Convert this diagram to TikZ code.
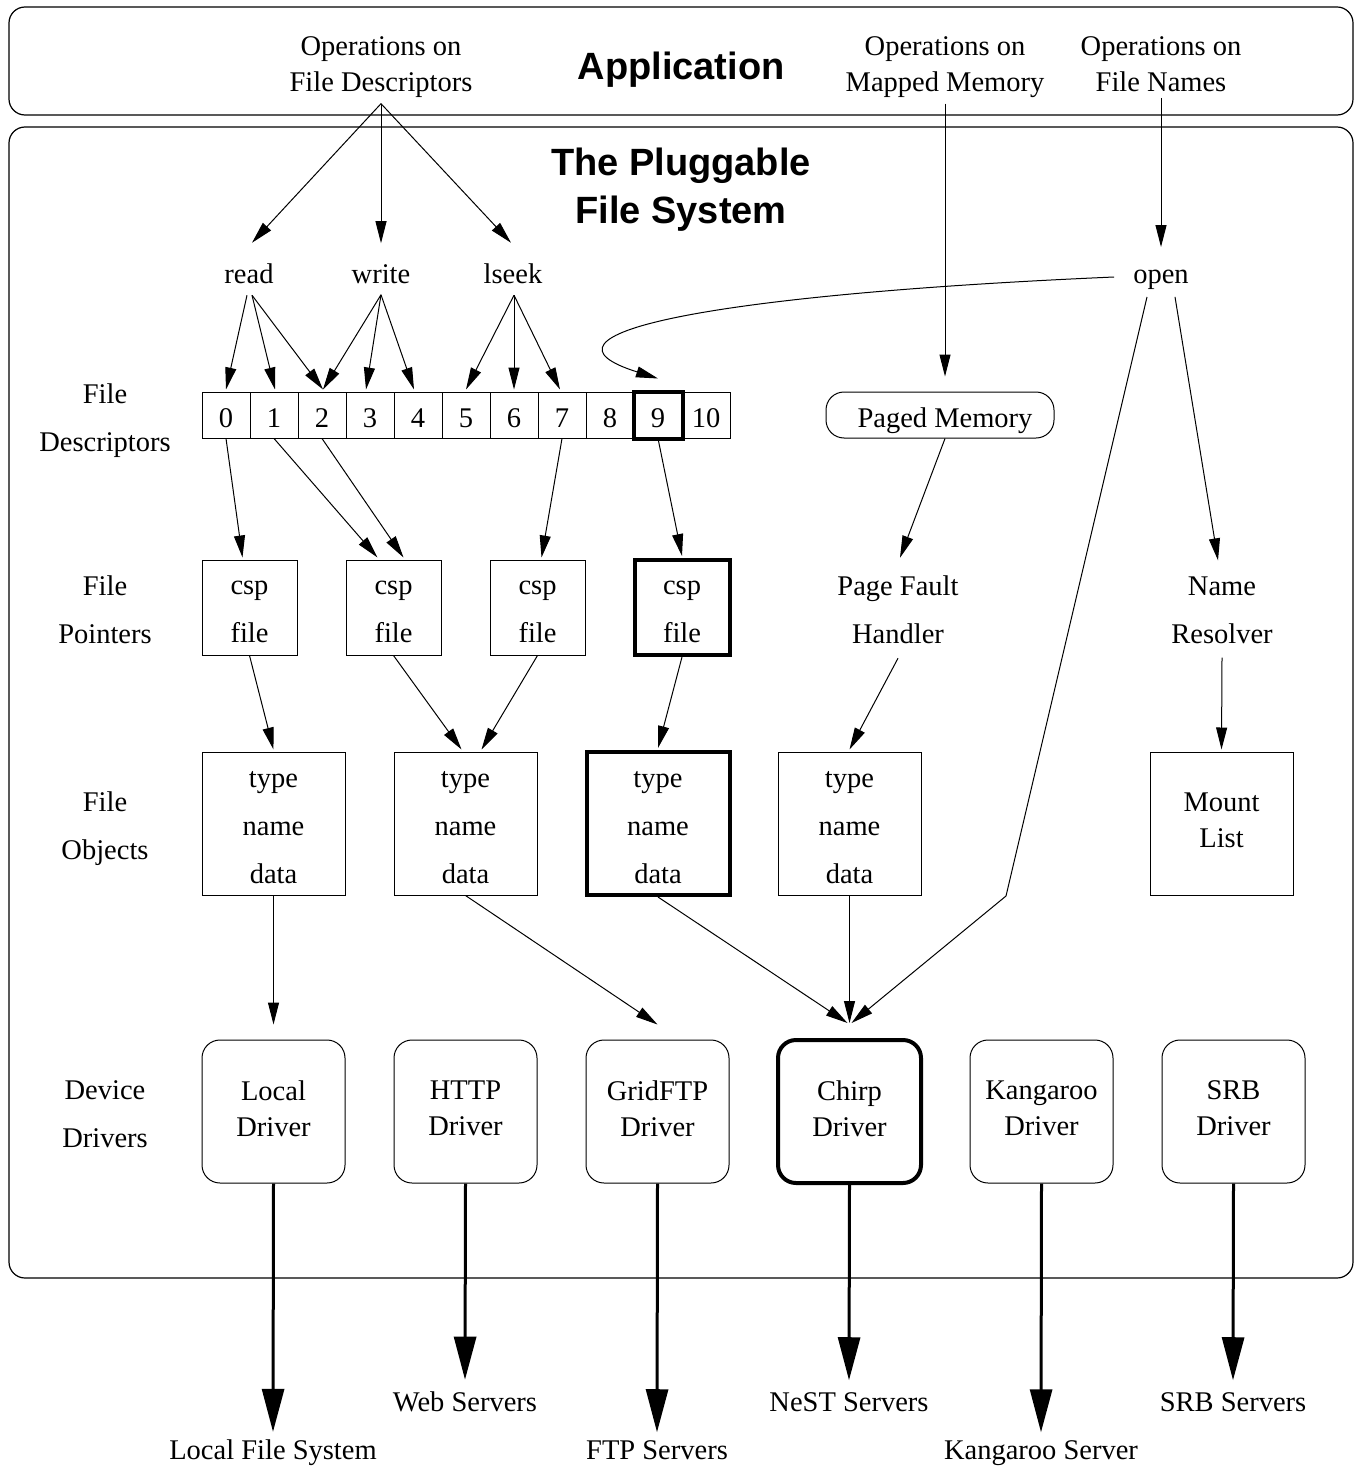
\documentclass[tikz,border=0pt]{standalone}
\usepackage{fontspec}
\setmainfont{Liberation Serif}
\newfontfamily\headfont{Liberation Sans}
\usetikzlibrary{arrows.meta}

\tikzset{
    lbl/.style={font=\fontsize{28.5}{36}\selectfont, align=center, inner sep=0pt},
    lblw/.style={font=\fontsize{28.5}{48}\selectfont, align=center, inner sep=0pt},
    head/.style={font=\headfont\bfseries\fontsize{38}{48}\selectfont, align=center, inner sep=0pt},
    frame/.style={draw, line width=1.2pt, rounded corners=16pt},
    cell/.style={lbl, draw, line width=1pt, minimum width=48pt, minimum height=46pt, execute at begin node=\rule{0pt}{25pt}},
    ptrbox/.style={lblw, draw, line width=1pt, minimum width=95pt, minimum height=95pt},
    objbox/.style={lblw, draw, line width=1pt, minimum width=143pt, minimum height=143pt},
    mountbox/.style={lbl, draw, line width=1pt, minimum width=143pt, minimum height=143pt, execute at end node=\rule[-6pt]{0pt}{0pt}},
    drvbox/.style={lbl, draw, line width=1pt, rounded corners=18pt, minimum width=143pt, minimum height=143pt, execute at end node=\rule[-6pt]{0pt}{0pt}},
    hot/.style={line width=4pt},
    arr/.style={-{Triangle[length=22pt,width=11pt]}, line width=1pt},
    bigarr/.style={-{Triangle[length=43pt,width=22pt]}, line width=3pt},
}

\begin{document}
\begin{tikzpicture}[x=1pt,y=-1pt]
    \useasboundingbox (0,0) rectangle (1356,1466);

    \draw[frame] (9,7) rectangle (1353,115);
    \draw[frame] (9,127) rectangle (1353,1278);

    \node[head] (app) at (681,70) {Application};
    \node[head] (pfs) at (681,190) {The Pluggable\\File System};

    \node[lbl] (opsfd) at (381,67) {Operations on\\File Descriptors};
    \node[lbl] (opsmm) at (945,67) {Operations on\\Mapped Memory};
    \node[lbl] (opsfn) at (1161,64) {Operations on\\File Names};

    \node[lbl] (read) at (249,274) {read};
    \node[lbl] (write) at (381,274) {write};
    \node[lbl] (lseek) at (513,274) {lseek};
    \node[lbl] (open) at (1161,280) {open};

    % row labels
    \node[lblw] (fdlbl) at (105,421) {File\\Descriptors};
    \node[lblw] (fplbl) at (105,610) {File\\Pointers};
    \node[lblw] (foblbl) at (105,829) {File\\Objects};
    \node[lblw] (ddlbl) at (105,1114) {Device\\Drivers};

    % descriptor table
    \foreach \i in {0,...,10}
        \node[cell] (c\i) at ({226+48*\i},415) {\i};
    \draw[hot] (c9.north west) rectangle (c9.south east);

    \node[lbl, draw, line width=1pt, rounded corners=18pt, minimum width=228pt, minimum height=46pt] (paged) at (940,415) {\rule{0pt}{31pt}\hspace{10pt}Paged Memory};

    \node[ptrbox] (p1) at (249.5,607.5) {\rule{0pt}{23pt}csp\\file};
    \node[ptrbox] (p2) at (393.5,607.5) {\rule{0pt}{23pt}csp\\file};
    \node[ptrbox] (p3) at (537.5,607.5) {\rule{0pt}{23pt}csp\\file};
    \node[ptrbox, hot] (p4) at (682,607.5) {\rule{0pt}{23pt}csp\\file};
    \node[lblw] (pfh) at (898,610) {Page Fault\\Handler};
    \node[lblw] (namer) at (1222,610) {Name\\Resolver};

    \node[objbox] (o1) at (273.5,823.5) {\rule{0pt}{25pt}type\\name\\data};
    \node[objbox] (o2) at (465.5,823.5) {\rule{0pt}{25pt}type\\name\\data};
    \node[objbox, hot] (o3) at (658,823.5) {\rule{0pt}{25pt}type\\name\\data};
    \node[objbox] (o4) at (849.5,823.5) {\rule{0pt}{25pt}type\\name\\data};
    \node[mountbox] (mount) at (1221.5,823.5) {Mount\\List};

    \node[drvbox] (local) at (273.5,1111.5) {Local\\Driver};
    \node[drvbox] (http) at (465.5,1111.5) {HTTP\\Driver};
    \node[drvbox] (grid) at (657.5,1111.5) {GridFTP\\Driver};
    \node[drvbox, hot] (chirp) at (849.5,1111.5) {Chirp\\Driver};
    \node[drvbox] (kang) at (1041.5,1111.5) {Kangaroo\\Driver};
    \node[drvbox] (srb) at (1233.5,1111.5) {SRB\\Driver};

    \node[lbl] (lfs) at (273,1453) {Local File System};
    \node[lbl] (web) at (465,1402) {Web Servers};
    \node[lbl] (ftp) at (657,1450) {FTP Servers};
    \node[lbl] (nest) at (849,1402) {NeST Servers};
    \node[lbl] (kserv) at (1041,1453) {Kangaroo Server};
    \node[lbl] (srbs) at (1233,1402) {SRB Servers};

    % application calls
    \draw[arr] ([yshift=-6pt]opsfd.south) -- ([xshift=3pt,yshift=21pt]read.north);
    \draw[arr] ([yshift=-6pt]opsfd.south) -- ([yshift=21pt]write.north);
    \draw[arr] ([yshift=-6pt]opsfd.south) -- ([xshift=-2pt,yshift=21pt]lseek.north);
    \draw[arr] ([yshift=-6pt]opsmm.south) -- ([xshift=5pt,yshift=15pt]paged.north);
    \draw[arr] ([yshift=-6pt]opsfn.south) -- ([yshift=23pt]open.north);

    \draw[arr] ([xshift=-2pt,yshift=-11pt]read.south) -- ([yshift=2pt]c0.north);
    \draw[arr] ([xshift=3pt,yshift=-11pt]read.south) -- ([xshift=1pt,yshift=2pt]c1.north);
    \draw[arr] ([xshift=3pt,yshift=-11pt]read.south) -- ([xshift=1pt,yshift=2pt]c2.north);
    \draw[arr] ([yshift=-11pt]write.south) -- ([xshift=1pt,yshift=2pt]c2.north);
    \draw[arr] ([yshift=-11pt]write.south) -- ([xshift=-4pt,yshift=2pt]c3.north);
    \draw[arr] ([yshift=-11pt]write.south) -- ([xshift=-4pt,yshift=2pt]c4.north);
    \draw[arr] ([xshift=1pt,yshift=-11pt]lseek.south) -- ([yshift=2pt]c5.north);
    \draw[arr] ([xshift=1pt,yshift=-11pt]lseek.south) -- ([yshift=2pt]c6.north);
    \draw[arr] ([xshift=1pt,yshift=-11pt]lseek.south) -- ([xshift=-2pt,yshift=2pt]c7.north);

    \draw[arr] ([xshift=-19pt,yshift=3pt]open.west) .. controls (700,295) and (520,335) .. ([yshift=13pt]c9.north);
    \draw[arr] ([xshift=14pt,yshift=-7pt]open.south) -- ([xshift=-4pt,yshift=16pt]namer.north);
    \draw[arr] ([xshift=-14pt,yshift=-7pt]open.south) -- (1006,896) -- ([xshift=2pt,yshift=15pt]chirp.north);

    % descriptors to pointers to objects
    \draw[arr] (c0.south) -- ([xshift=-7pt,yshift=2pt]p1.north);
    \draw[arr] (c1.south) -- ([xshift=-16pt,yshift=2pt]p2.north);
    \draw[arr] (c2.south) -- ([xshift=10pt,yshift=2pt]p2.north);
    \draw[arr] (c7.south) -- ([xshift=4pt,yshift=2pt]p3.north);
    \draw[arr] (c9.south) -- ([yshift=2pt]p4.north);

    \draw[arr] ([xshift=5pt]paged.south) -- ([xshift=2pt,yshift=18pt]pfh.north);
    \draw[arr] ([yshift=-14pt]pfh.south) -- ([yshift=2pt]o4.north);
    \draw[arr] ([yshift=-14pt]namer.south) -- ([yshift=2pt]mount.north);

    \draw[arr] (p1.south) -- ([yshift=2pt]o1.north);
    \draw[arr] (p2.south) -- ([xshift=-4pt,yshift=2pt]o2.north);
    \draw[arr] (p3.south) -- ([xshift=16pt,yshift=2pt]o2.north);
    \draw[arr] (p4.south) -- ([yshift=2pt]o3.north);

    \draw[arr] (o1.south) -- ([yshift=15pt]local.north);
    \draw[arr] (o2.south) -- ([yshift=15pt]grid.north);
    \draw[arr] (o3.south) -- ([xshift=-2pt,yshift=15pt]chirp.north);
    \draw[arr] (o4.south) -- ([yshift=15pt]chirp.north);

    % drivers to servers
    \foreach \d/\s/\g in {local/lfs/8, http/web/12, grid/ftp/8, chirp/nest/12, kang/kserv/8, srb/srbs/12}
        \draw[bigarr] (\d.south) -- ([yshift=\g pt]\s.north);

\end{tikzpicture}
\end{document}
